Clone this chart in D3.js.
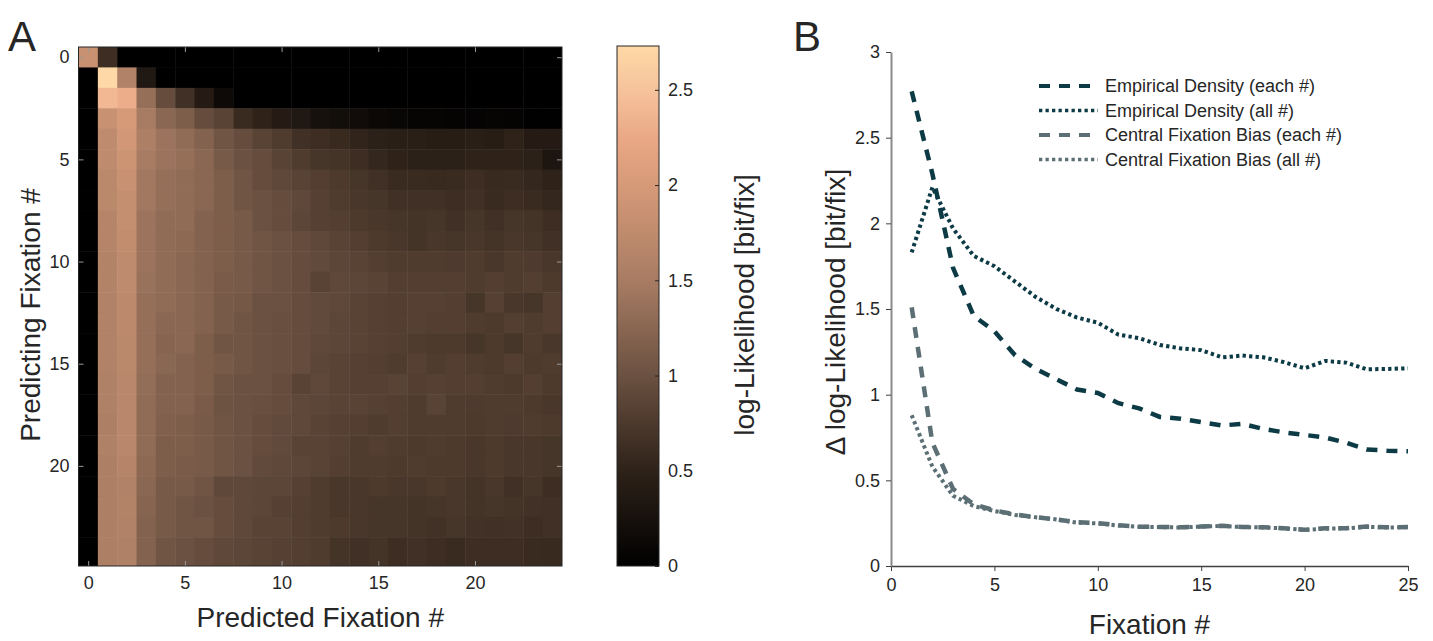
<!DOCTYPE html>
<html>
<head>
<meta charset="utf-8">
<script src="https://cdn.jsdelivr.net/npm/d3@7"></script>
<style>
body { margin: 0; background: #fff; }
text { font-family: "Liberation Sans", Arial, sans-serif; fill: #262626; }
</style>
</head>
<body>
<div id="chart"></div>
<script>
var W = 1433, H = 641;

// Panel A: rows = predicting fixation, columns = predicted fixation
var fixIndex = [0,1,2,3,4,5,6,7,8,9,10,11,12,13,14,15,16,17,18,19,20,21,22,23,24];
var heatRows = [
  [1.85,0.62,0,0,0,0,0,0,0,0,0,0,0,0,0,0,0,0,0,0,0,0,0,0,0],
  [0,2.72,1.6,0.35,0,0,0,0,0,0,0,0,0,0,0,0,0,0,0,0,0,0,0,0,0],
  [0,2.4,2.3,1.35,0.95,0.65,0.4,0.15,0,0,0,0,0,0,0,0,0,0,0,0,0,0,0,0,0],
  [0,1.85,2.0,1.5,1.25,1.15,0.95,0.85,0.6,0.5,0.4,0.35,0.25,0.2,0.18,0.12,0.1,0.08,0.08,0.06,0.05,0.07,0.06,0.02,0.02],
  [0,1.75,1.95,1.55,1.4,1.3,1.2,1.05,0.95,0.85,0.78,0.65,0.62,0.58,0.52,0.48,0.45,0.45,0.42,0.42,0.45,0.42,0.5,0.4,0.4],
  [0,1.75,1.9,1.5,1.4,1.35,1.25,1.1,1.0,0.95,0.85,0.78,0.7,0.68,0.62,0.55,0.5,0.48,0.48,0.48,0.5,0.5,0.5,0.48,0.32],
  [0,1.7,1.85,1.45,1.35,1.3,1.25,1.15,1.05,0.95,0.9,0.85,0.8,0.75,0.7,0.65,0.6,0.6,0.58,0.6,0.62,0.58,0.6,0.55,0.5],
  [0,1.7,1.8,1.45,1.35,1.3,1.25,1.15,1.05,1.0,0.95,0.9,0.82,0.78,0.72,0.7,0.65,0.65,0.65,0.62,0.65,0.6,0.62,0.6,0.55],
  [0,1.65,1.8,1.4,1.3,1.3,1.2,1.15,1.1,1.0,0.95,0.88,0.82,0.8,0.75,0.72,0.7,0.68,0.7,0.65,0.7,0.65,0.7,0.68,0.62],
  [0,1.65,1.78,1.4,1.3,1.28,1.2,1.15,1.1,1.05,1.0,0.95,0.9,0.85,0.8,0.75,0.72,0.68,0.72,0.7,0.72,0.68,0.72,0.7,0.65],
  [0,1.62,1.75,1.4,1.3,1.25,1.2,1.15,1.1,1.05,1.0,0.95,0.92,0.88,0.85,0.8,0.78,0.78,0.78,0.76,0.78,0.72,0.78,0.76,0.72],
  [0,1.62,1.75,1.38,1.3,1.25,1.2,1.12,1.1,1.05,1.0,0.95,0.85,0.9,0.88,0.85,0.8,0.8,0.8,0.8,0.78,0.8,0.78,0.8,0.75],
  [0,1.6,1.72,1.35,1.3,1.25,1.2,1.1,1.08,1.0,1.0,0.95,0.92,0.9,0.85,0.82,0.8,0.82,0.82,0.8,0.7,0.82,0.72,0.7,0.8],
  [0,1.6,1.72,1.35,1.25,1.25,1.2,1.1,1.05,1.0,0.98,0.95,0.92,0.88,0.85,0.82,0.8,0.82,0.8,0.8,0.78,0.75,0.8,0.78,0.8],
  [0,1.6,1.7,1.35,1.22,1.25,1.15,1.05,1.05,1.0,0.98,0.95,0.9,0.88,0.85,0.82,0.8,0.78,0.75,0.75,0.7,0.75,0.7,0.78,0.72],
  [0,1.6,1.7,1.35,1.25,1.2,1.15,1.1,1.05,1.0,0.98,0.95,0.88,0.85,0.82,0.8,0.78,0.82,0.78,0.8,0.78,0.75,0.8,0.75,0.78],
  [0,1.58,1.68,1.32,1.2,1.2,1.15,1.05,1.0,1.0,0.95,0.85,0.9,0.85,0.82,0.82,0.85,0.8,0.82,0.8,0.8,0.78,0.75,0.8,0.75],
  [0,1.58,1.68,1.3,1.2,1.2,1.12,1.02,1.0,0.98,0.95,0.9,0.88,0.85,0.85,0.82,0.8,0.78,0.85,0.78,0.76,0.78,0.78,0.75,0.72],
  [0,1.55,1.68,1.3,1.18,1.15,1.1,1.05,1.0,0.95,0.92,0.9,0.85,0.82,0.8,0.78,0.8,0.78,0.78,0.78,0.75,0.78,0.76,0.78,0.75],
  [0,1.58,1.68,1.3,1.15,1.15,1.1,1.05,1.0,0.95,0.92,0.85,0.85,0.82,0.78,0.8,0.78,0.75,0.78,0.75,0.72,0.75,0.72,0.72,0.7],
  [0,1.55,1.65,1.28,1.15,1.12,1.1,1.05,1.0,0.92,0.9,0.88,0.85,0.8,0.78,0.78,0.75,0.78,0.75,0.75,0.72,0.75,0.72,0.72,0.7],
  [0,1.55,1.6,1.25,1.1,1.1,1.05,0.9,0.9,0.88,0.88,0.82,0.78,0.72,0.72,0.75,0.72,0.72,0.75,0.72,0.68,0.72,0.65,0.7,0.62],
  [0,1.55,1.62,1.22,1.1,1.05,1.0,0.95,0.9,0.88,0.82,0.8,0.78,0.72,0.72,0.7,0.7,0.68,0.7,0.72,0.68,0.7,0.68,0.66,0.65],
  [0,1.55,1.6,1.2,1.1,1.05,1.05,0.95,0.9,0.85,0.85,0.8,0.78,0.75,0.72,0.7,0.7,0.68,0.66,0.7,0.66,0.65,0.66,0.62,0.65],
  [0,1.55,1.58,1.2,1.05,1.0,0.95,0.9,0.88,0.85,0.82,0.8,0.78,0.68,0.65,0.68,0.62,0.65,0.62,0.6,0.62,0.62,0.62,0.6,0.58]
];
var heatTicks = [0, 5, 10, 15, 20];
var cbarMax = 2.73;
var cbarTicks = [0, 0.5, 1, 1.5, 2, 2.5];
var cmapStops = [0, 0.5, 1.0, 1.5, 2.0, 2.25, 2.5, 2.73];
var cmapColors = ["#000000", "#2e2219", "#6b5141", "#a87c63", "#d69a78", "#eaa886", "#f6c39c", "#fed9a6"];

// Panel B
var fixNum = [1,2,3,4,5,6,7,8,9,10,11,12,13,14,15,16,17,18,19,20,21,22,23,24,25];
var empEach = [2.77,2.29,1.74,1.46,1.37,1.23,1.15,1.09,1.03,1.01,0.95,0.92,0.87,0.86,0.84,0.82,0.83,0.8,0.78,0.765,0.75,0.72,0.68,0.673,0.67];
var empAll = [1.83,2.21,1.97,1.81,1.75,1.66,1.57,1.5,1.45,1.42,1.35,1.33,1.29,1.27,1.26,1.218,1.228,1.218,1.19,1.154,1.197,1.187,1.148,1.15,1.154];
var cfbEach = [1.51,0.72,0.45,0.36,0.325,0.3,0.285,0.272,0.255,0.25,0.238,0.229,0.228,0.226,0.23,0.235,0.228,0.226,0.22,0.212,0.22,0.22,0.23,0.226,0.227];
var cfbAll = [0.88,0.58,0.41,0.35,0.321,0.298,0.284,0.272,0.253,0.249,0.236,0.229,0.227,0.225,0.23,0.234,0.227,0.225,0.22,0.21,0.218,0.22,0.229,0.225,0.226];
var xTicksB = [0, 5, 10, 15, 20, 25];
var yTicksB = [0, 0.5, 1, 1.5, 2, 2.5, 3];
var seriesNames = ["Empirical Density (each #)", "Empirical Density (all #)", "Central Fixation Bias (each #)", "Central Fixation Bias (all #)"];

var darkTeal = "#0c3a45", grayTeal = "#5b6f75";

var svg = d3.select("#chart").append("svg")
    .attr("width", W)
    .attr("height", H);

// ---------- panel A ----------
var boxA = {left: 78.5, right: 562, top: 47, bottom: 566};
var xA = d3.scaleLinear().domain([-0.5, 24.5]).range([boxA.left, boxA.right]);
var yA = d3.scaleLinear().domain([-0.5, 24.9]).range([boxA.top, boxA.bottom]);
var color = d3.scaleLinear().domain(cmapStops).range(cmapColors).clamp(true);

svg.append("clipPath").attr("id", "clipA")
  .append("rect")
    .attr("x", boxA.left).attr("y", boxA.top)
    .attr("width", boxA.right - boxA.left).attr("height", boxA.bottom - boxA.top);

var cells = [];
heatRows.forEach(function(row, r) {
    row.forEach(function(v, c) { cells.push({r: fixIndex[r], c: fixIndex[c], v: v}); });
});
var lastRow = fixIndex[fixIndex.length - 1];

svg.append("g").attr("clip-path", "url(#clipA)")
  .selectAll("rect")
  .data(cells)
  .enter()
  .append("rect")
    .attr("x", function(d) { return xA(d.c - 0.5); })
    .attr("y", function(d) { return yA(d.r - 0.5); })
    .attr("width", function(d) { return xA(d.c + 0.5) - xA(d.c - 0.5) + 0.5; })
    .attr("height", function(d) {
        var end = d.r === lastRow ? d.r + 1 : d.r + 0.5;
        return yA(end) - yA(d.r - 0.5) + 0.5;
    })
    .attr("fill", function(d) { return color(d.v); });

function styleAxis(g, tickColor) {
    g.select(".domain").remove();
    g.selectAll(".tick line").attr("stroke", tickColor);
    g.selectAll(".tick text").style("font-size", "18px").attr("fill", "#262626");
}

svg.append("g")
    .attr("transform", "translate(0," + boxA.bottom + ")")
    .call(d3.axisBottom(xA).tickValues(heatTicks).tickSizeInner(-5).tickSizeOuter(0).tickPadding(10))
    .call(styleAxis, "#999");
svg.append("g")
    .attr("transform", "translate(0," + boxA.top + ")")
    .call(d3.axisTop(xA).tickValues(heatTicks).tickSizeInner(-5).tickSizeOuter(0).tickFormat(""))
    .call(styleAxis, "#999");
svg.append("g")
    .attr("transform", "translate(" + boxA.left + ",0)")
    .call(d3.axisLeft(yA).tickValues(heatTicks).tickSizeInner(-5).tickSizeOuter(0).tickPadding(9))
    .call(styleAxis, "#999");
svg.append("g")
    .attr("transform", "translate(" + boxA.right + ",0)")
    .call(d3.axisRight(yA).tickValues(heatTicks).tickSizeInner(-5).tickSizeOuter(0).tickFormat(""))
    .call(styleAxis, "#999");

svg.append("rect")
    .attr("x", boxA.left).attr("y", boxA.top)
    .attr("width", boxA.right - boxA.left).attr("height", boxA.bottom - boxA.top)
    .attr("fill", "none").attr("stroke", "#262626").attr("stroke-width", 1);

// colorbar
var cb = {left: 617, right: 659, top: 46, bottom: 566};
var yC = d3.scaleLinear().domain([0, cbarMax]).range([cb.bottom, cb.top]);
var grad = svg.append("defs").append("linearGradient")
    .attr("id", "cbarGrad")
    .attr("x1", 0).attr("y1", 1).attr("x2", 0).attr("y2", 0);
grad.selectAll("stop")
  .data(cmapStops)
  .enter()
  .append("stop")
    .attr("offset", function(d) { return d / cbarMax; })
    .attr("stop-color", function(d) { return color(d); });

svg.append("rect")
    .attr("x", cb.left).attr("y", yC(cbarMax))
    .attr("width", cb.right - cb.left).attr("height", yC(0) - yC(cbarMax))
    .attr("fill", "url(#cbarGrad)")
    .attr("stroke", "#262626").attr("stroke-width", 1);

svg.append("g")
    .attr("transform", "translate(" + cb.right + ",0)")
    .call(d3.axisRight(yC).tickValues(cbarTicks).tickSizeInner(-4).tickSizeOuter(0).tickPadding(9).tickFormat(d3.format("")))
    .call(styleAxis, "#262626");

svg.append("text")
    .attr("transform", "translate(754,305) rotate(-90)")
    .attr("text-anchor", "middle")
    .style("font-size", "28px")
    .text("log-Likelihood [bit/fix]");

svg.append("text")
    .attr("transform", "translate(40,315) rotate(-90)")
    .attr("text-anchor", "middle")
    .style("font-size", "28px")
    .text("Predicting Fixation #");

svg.append("text")
    .attr("x", (boxA.left + boxA.right) / 2)
    .attr("y", 627)
    .attr("text-anchor", "middle")
    .style("font-size", "28px")
    .text("Predicted Fixation #");

svg.append("text").attr("x", 8).attr("y", 51).style("font-size", "42px").attr("fill", "#000").text("A");
svg.append("text").attr("x", 793).attr("y", 51).style("font-size", "42px").attr("fill", "#000").text("B");

// ---------- panel B ----------
var boxB = {left: 891, right: 1408, top: 52, bottom: 566};
var xB = d3.scaleLinear().domain([0, 25]).range([boxB.left, boxB.right]);
var yB = d3.scaleLinear().domain([0, 3]).range([boxB.bottom, boxB.top]);

var gx = svg.append("g")
    .attr("transform", "translate(0," + boxB.bottom + ")")
    .call(d3.axisBottom(xB).tickValues(xTicksB).tickSizeInner(5).tickSizeOuter(0).tickPadding(7));
gx.select(".domain").attr("stroke", "#404040").attr("stroke-width", 1.5);
gx.selectAll(".tick line").attr("stroke", "#404040");
gx.selectAll(".tick text").style("font-size", "18px").attr("fill", "#262626");

var gy = svg.append("g")
    .attr("transform", "translate(" + boxB.left + ",0)")
    .call(d3.axisLeft(yB).tickValues(yTicksB).tickSizeInner(5).tickSizeOuter(0).tickPadding(6).tickFormat(d3.format("")));
gy.select(".domain").attr("stroke", "#8a8a8a").attr("stroke-width", 2);
gy.selectAll(".tick line").attr("stroke", "#404040");
gy.selectAll(".tick text").style("font-size", "18px").attr("fill", "#262626");

var series = [
    {name: seriesNames[0], values: empEach, color: darkTeal, width: 4.5, dash: "11,9"},
    {name: seriesNames[1], values: empAll, color: darkTeal, width: 4, dash: "3.3,3.2"},
    {name: seriesNames[2], values: cfbEach, color: grayTeal, width: 4.5, dash: "11,9"},
    {name: seriesNames[3], values: cfbAll, color: grayTeal, width: 4, dash: "3.3,3.2"}
];

var line = d3.line()
    .x(function(d, i) { return xB(fixNum[i]); })
    .y(function(d) { return yB(d); });

svg.selectAll(".series")
  .data(series)
  .enter()
  .append("path")
    .attr("class", "series")
    .attr("d", function(s) { return line(s.values); })
    .attr("fill", "none")
    .attr("stroke", function(s) { return s.color; })
    .attr("stroke-width", function(s) { return s.width; })
    .attr("stroke-dasharray", function(s) { return s.dash; });

// legend
var legend = svg.append("g").attr("transform", "translate(1039,86)");
var rows = legend.selectAll("g")
  .data(series)
  .enter()
  .append("g")
    .attr("transform", function(d, i) { return "translate(0," + (i * 24.5) + ")"; });
rows.append("line")
    .attr("x1", 0).attr("x2", 59)
    .attr("stroke", function(s) { return s.color; })
    .attr("stroke-width", function(s) { return s.width - 0.5; })
    .attr("stroke-dasharray", function(s) { return s.dash; });
rows.append("text")
    .attr("x", 66)
    .attr("dy", "0.35em")
    .style("font-size", "18px")
    .text(function(s) { return s.name; });

svg.append("text")
    .attr("transform", "translate(845,312) rotate(-90)")
    .attr("text-anchor", "middle")
    .style("font-size", "28px")
    .text("\u0394 log-Likelihood [bit/fix]");

svg.append("text")
    .attr("x", (boxB.left + boxB.right) / 2)
    .attr("y", 634)
    .attr("text-anchor", "middle")
    .style("font-size", "28px")
    .text("Fixation #");
</script>
</body>
</html>
